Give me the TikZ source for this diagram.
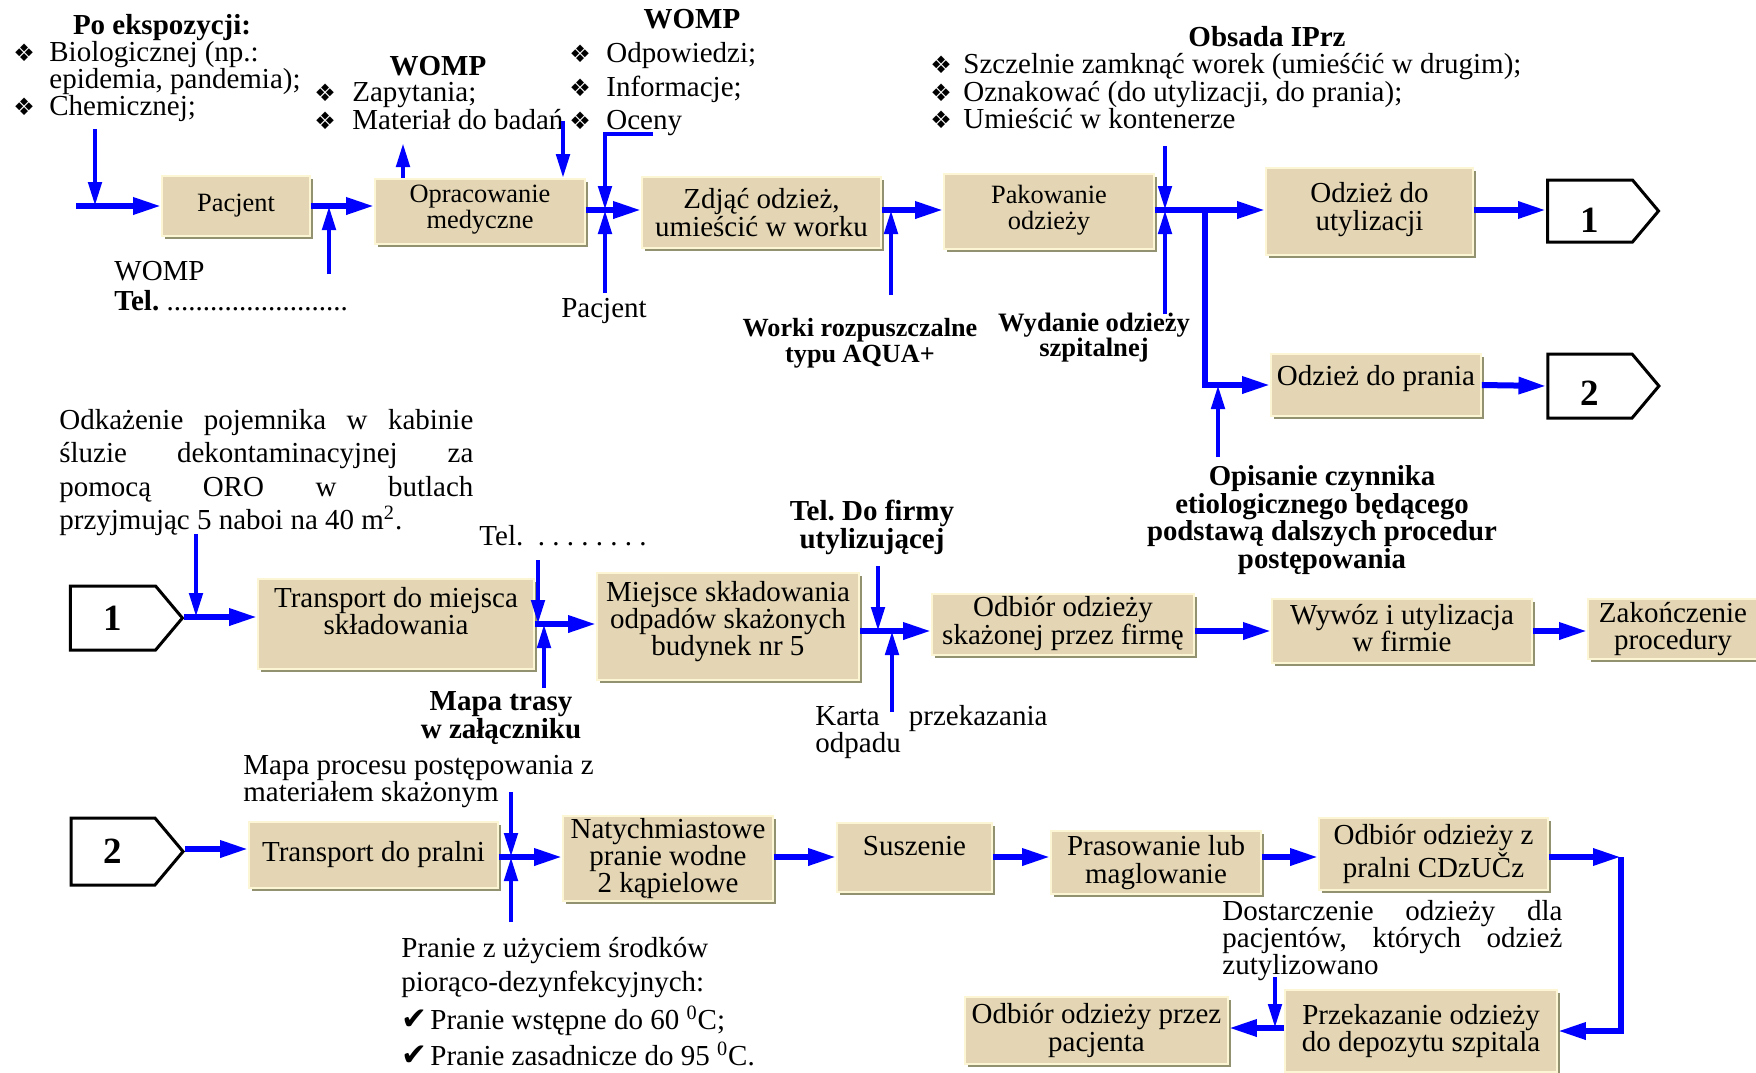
\documentclass[tikz,border=0pt]{standalone}
\usepackage{fontspec}
\setmainfont{Liberation Serif}
\newfontfamily\symfont{DejaVu Sans}
\usetikzlibrary{arrows.meta,positioning,shadows,shapes.symbols}
\definecolor{boxfill}{RGB}{228,214,180}
\definecolor{boxlight}{RGB}{252,246,212}
\definecolor{boxshade}{RGB}{146,146,112}
\definecolor{flowblue}{RGB}{0,0,255}
\newcommand{\fbig}{\fontsize{14.5}{13.7}\selectfont}
\newcommand{\fsml}{\fontsize{13.2}{13}\selectfont}
\newcommand{\bul}[1][18pt]{\makebox[#1][l]{\symfont\fontsize{12}{12}\selectfont ❖}}
\newcommand{\chk}{\makebox[14.5pt][l]{\symfont\fontsize{15.5}{15.5}\selectfont ✔}}
\tikzset{
  box/.style={draw=boxlight, line width=0.8pt, fill=boxfill, align=center, inner sep=1pt, font=\fbig,
    general shadow={fill=boxshade, shadow xshift=1.6pt, shadow yshift=-1.6pt}},
  tag/.style={signal, signal to=east, signal pointer angle=100, draw, line width=1.5pt, fill=white,
    inner sep=0pt, font=\fontsize{18.5}{18.5}\selectfont\bfseries},
  lab/.style={inner sep=0pt, font=\fbig},
  blab/.style={inner sep=0pt, align=center, font=\fbig\bfseries},
  just/.style={inner sep=0pt, align=justify, font=\fbig,
    execute at begin node={\hyphenpenalty=10000\exhyphenpenalty=10000\tolerance=10000}},
  flow/.style={flowblue, line width=3pt, -{Triangle[length=14pt, width=8pt]}},
  feed/.style={flowblue, line width=2.3pt, -{Triangle[length=12pt, width=6.5pt]}},
}
\begin{document}
\frenchspacing
\begin{tikzpicture}[x=0.5pt, y=-0.5pt]
  \useasboundingbox (0,0) rectangle (1756,1072);
  % labels, top
  \node[blab] (ekspo) at (162,28) {Po ekspozycji:};
  \node[lab, align=left, anchor=west, font=\fontsize{14.5}{13.5}\selectfont] (bio) at (13,82)
    {\bul Biologicznej (np.:\\\hspace*{18pt}epidemia, pandemia);\\\bul Chemicznej;};
  \node[blab] (womp1) at (438,66) {WOMP};
  \node[lab, align=left, anchor=west, font=\fontsize{14.5}{14}\selectfont] (zapyt) at (314,106)
    {\bul[19pt]Zapytania;\\\bul[19pt]Materiał do badań};
  \node[blab] (womp2) at (692,19) {WOMP};
  \node[lab, align=left, anchor=west, font=\fontsize{14.5}{16.75}\selectfont] (odpow) at (569,89.5)
    {\bul[18.5pt]Odpowiedzi;\\\bul[18.5pt]Informacje;\\\bul[18.5pt]Oceny};
  \node[blab] (obsada) at (1267,37) {Obsada IPrz};
  \node[lab, align=left, anchor=west, font=\fontsize{14.5}{13.75}\selectfont] (iprz) at (930,91.5)
    {\bul[16.5pt]Szczelnie zamknąć worek (umieśćić w drugim);\\\bul[16.5pt]Oznakować (do utylizacji, do prania);\\\bul[16.5pt]Umieścić w kontenerze};
  \node[lab, align=left, anchor=west, font=\fontsize{14.5}{15}\selectfont] (tel1) at (114,286)
    {WOMP\\\textbf{Tel.} .........................};
  \node[lab] (pacjlab) at (604,311) {Pacjent};
  \node[blab, font=\fontsize{13.1}{13}\selectfont\bfseries] (worki) at (860,343) {Worki rozpuszczalne\\typu AQUA+};
  \node[blab, font=\fontsize{13.3}{12.5}\selectfont\bfseries] (wydanie) at (1094,337.5) {Wydanie odzieży\\szpitalnej};
  \node[blab, font=\fontsize{14.4}{13.7}\selectfont\bfseries] (opis) at (1322,520)
    {Opisanie czynnika\\etiologicznego będącego\\podstawą dalszych procedur\\postępowania};
  % labels, middle
  \node[just, text width=207pt, anchor=west, font=\fontsize{14.5}{16.8}\selectfont] (odkaz) at (59,472.5)
    {Odkażenie pojemnika w kabinie\linebreak śluzie dekontaminacyjnej za\linebreak pomocą ORO w butlach\linebreak przyjmując 5 naboi na 40~m\textsuperscript{2}.};
  \node[lab, anchor=west] (tel2) at (479,536) {Tel.\ \ . . . . . . . .};
  \node[blab, font=\fontsize{14.5}{14}\selectfont\bfseries] (telfirm) at (872,527) {Tel. Do firmy\\utylizującej};
  \node[blab, font=\fontsize{14.5}{14}\selectfont\bfseries] (mapatr) at (501,718) {Mapa trasy\\w załączniku};
  \node[just, text width=116pt, anchor=west, font=\fontsize{14.5}{13.5}\selectfont] (karta) at (815,732.5)
    {Karta przekazania odpadu};
  % labels, bottom
  \node[lab, align=left, anchor=west, font=\fontsize{14.5}{13.5}\selectfont] (mapapr) at (243,781.5)
    {Mapa procesu postępowania z\\materiałem skażonym};
  \node[lab, align=left, anchor=west, font=\fontsize{14.5}{17}\selectfont] (pranie) at (401,1002)
    {Pranie z użyciem środków\\piorąco-dezynfekcyjnych:\\[2pt]\chk Pranie wstępne do 60 \textsuperscript{0}C;\\[1pt]\chk Pranie zasadnicze do 95 \textsuperscript{0}C.};
  \node[just, text width=170pt, anchor=west, font=\fontsize{14.5}{13.3}\selectfont] (dostar) at (1222,940.5)
    {Dostarczenie odzieży dla pacjentów, których odzież zutylizowano};
  % process boxes
  \node[box, font=\fsml, minimum width=74pt, minimum height=30pt] (pacjent) at (236,206) {Pacjent};
  \node[box, font=\fsml, minimum width=105pt, minimum height=32.5pt, text depth=4.5pt] (oprac) at (480,211.5) {Opracowanie\\medyczne};
  \node[box, minimum width=119.5pt, minimum height=35.5pt] (zdjac) at (761.5,212.5) {Zdjąć odzież,\\umieścić w worku};
  \node[box, font=\fsml, minimum width=105pt, minimum height=37.5pt, text depth=4pt] (pakow) at (1049,211.5) {Pakowanie\\odzieży};
  \node[box, minimum width=103.5pt, minimum height=43.5pt, text depth=5pt] (utyl) at (1369.5,211.5) {Odzież do\\utylizacji};
  \node[box, minimum width=105pt, minimum height=31pt, text depth=10pt] (prania) at (1376,385) {Odzież do prania};
  \node[tag, minimum width=55.5pt, minimum height=31pt, text height=21.5pt] (tag1) at (1590,211) {1};
  \node[tag, minimum width=55.5pt, minimum height=32pt, text height=19pt] (tag2) at (1590,386) {2};
  \node[tag, minimum width=56pt, minimum height=32pt] (tag3) at (113,618) {1};
  \node[box, minimum width=138pt, minimum height=45pt, text depth=13pt] (transm) at (396,624) {Transport do miejsca\\składowania};
  \node[box, minimum width=131pt, minimum height=53.5pt, text depth=8pt] (miejsce) at (728,626.5) {Miejsce składowania\\odpadów skażonych\\budynek nr 5};
  \node[box, minimum width=131pt, minimum height=30.5pt, text depth=4pt] (odbfirm) at (1063,624.5) {Odbiór odzieży\\skażonej przez firmę};
  \node[box, minimum width=130pt, minimum height=32pt, text depth=3pt] (wywoz) at (1402,631) {Wywóz i utylizacja\\w firmie};
  \node[box, minimum width=85pt, minimum height=30pt] (zakon) at (1673,629) {Zakończenie\\procedury};
  \node[tag, minimum width=56pt, minimum height=33.5pt] (tag4) at (113,851.5) {2};
  \node[box, minimum width=124.5pt, minimum height=33pt] (transp) at (373.5,855) {Transport do pralni};
  \node[box, minimum width=105pt, minimum height=40.5pt] (natych) at (668,858.5) {Natychmiastowe\\pranie wodne\\2 kąpielowe};
  \node[box, minimum width=77.5pt, minimum height=34.5pt, text depth=11.5pt] (susz) at (914.5,857.5) {Suszenie};
  \node[box, minimum width=105pt, minimum height=31.5pt] (praso) at (1156,862.5) {Prasowanie lub\\maglowanie};
  \node[box, minimum width=114.5pt, minimum height=36pt, text depth=3pt] (odbpral) at (1433.5,854) {Odbiór odzieży z\\pralni CDzUČz};
  \node[box, minimum width=136pt, minimum height=41pt] (przek) at (1421,1031) {Przekazanie odzieży\\do depozytu szpitala};
  \node[box, minimum width=131.5pt, minimum height=33.5pt] (odbpac) at (1096.5,1030.5) {Odbiór odzieży przez\\pacjenta};
  % connectors, top row
  \coordinate (s0) at (76,206);
  \coordinate (d0) at (95,129);
  \draw[flow] (s0) -- (pacjent.west);
  \draw[feed] (d0) -- (d0 |- s0);
  \coordinate (j1) at (329,206);
  \coordinate (u1) at (329,274);
  \draw[flow] (pacjent.east) -- (oprac.west |- pacjent.east);
  \draw[feed] (u1) -- (j1);
  \coordinate (o1) at (403,143);
  \coordinate (o2) at (563,121);
  \draw[feed] (oprac.north -| o1) -- (o1);
  \draw[feed] (o2) -- (oprac.north -| o2);
  \coordinate (j2) at (605,210);
  \coordinate (o3) at (653,134);
  \coordinate (u2) at (605,293);
  \draw[flow] (oprac.east |- j2) -- (zdjac.west |- j2);
  \draw[feed] (o3) -| (j2);
  \draw[feed] (u2) -- (j2);
  \coordinate (j3) at (891,210);
  \coordinate (u3) at (891,295);
  \draw[flow] (zdjac.east |- j3) -- (pakow.west |- j3);
  \draw[feed] (u3) -- (j3);
  \coordinate (j4) at (1165,210);
  \coordinate (o4) at (1165,146);
  \coordinate (u4) at (1165,314);
  \draw[flow] (pakow.east |- j4) -- (utyl.west |- j4);
  \draw[feed] (o4) -- (j4);
  \draw[feed] (u4) -- (j4);
  \coordinate (br) at (1205,210);
  \draw[flow] (br) |- (prania.west);
  \coordinate (j5) at (1218,385);
  \coordinate (u5) at (1218,457);
  \draw[feed] (u5) -- (j5);
  \draw[flow] (utyl.east |- j4) -- (tag1.west |- j4);
  \draw[flow] (prania.east) -- (tag2.west);
  % connectors, middle row
  \coordinate (m0) at (196,617);
  \coordinate (d1) at (196,534);
  \draw[flow] (tag3.east |- m0) -- (transm.west |- m0);
  \draw[feed] (d1) -- (m0);
  \coordinate (j6) at (538,624);
  \coordinate (d2) at (538,560);
  \coordinate (j7) at (544,624);
  \coordinate (u6) at (544,688);
  \draw[flow] (transm.east |- j6) -- (miejsce.west |- j6);
  \draw[feed] (d2) -- (j6);
  \draw[feed] (u6) -- (j7);
  \coordinate (j8) at (878,631);
  \coordinate (d3) at (878,566);
  \coordinate (j9) at (892,631);
  \coordinate (u7) at (892,712);
  \draw[flow] (miejsce.east |- j8) -- (odbfirm.west |- j8);
  \draw[feed] (d3) -- (j8);
  \draw[feed] (u7) -- (j9);
  \draw[flow] (odbfirm.east |- j8) -- (wywoz.west |- j8);
  \draw[flow] (wywoz.east |- j8) -- (zakon.west |- j8);
  % connectors, bottom row
  \coordinate (m1) at (181,849);
  \draw[flow] (tag4.east |- m1) -- (transp.west |- m1);
  \coordinate (j10) at (511,857);
  \coordinate (d4) at (511,792);
  \coordinate (u8) at (511,922);
  \draw[flow] (transp.east |- j10) -- (natych.west |- j10);
  \draw[feed] (d4) -- (j10);
  \draw[feed] (u8) -- (j10);
  \draw[flow] (natych.east |- j10) -- (susz.west |- j10);
  \draw[flow] (susz.east |- j10) -- (praso.west |- j10);
  \draw[flow] (praso.east |- j10) -- (odbpral.west |- j10);
  \coordinate (c1) at (1621,857);
  \draw[flow] (odbpral.east |- c1) -- (c1);
  \draw[flow] (c1) |- (przek.east);
  \coordinate (j11) at (1275,1028);
  \coordinate (d5) at (1275,977);
  \draw[flow] (przek.west |- j11) -- (odbpac.east |- j11);
  \draw[feed] (d5) -- (j11);
\end{tikzpicture}
\end{document}
